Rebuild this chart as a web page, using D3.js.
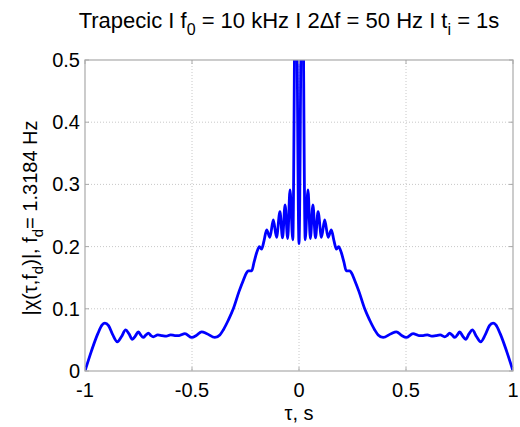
<!DOCTYPE html>
<html><head><meta charset="utf-8">
<script src="https://cdn.jsdelivr.net/npm/d3@7"></script>
<style>
body{margin:0;background:#fff;}
text{font-family:"Liberation Sans",Arial,Helvetica,sans-serif;fill:#000;}
</style></head>
<body><svg id="c" width="520" height="427"></svg>
<script>
const tau = [-1.0,-0.97,-0.94,-0.92,-0.907,-0.89,-0.87,-0.849,-0.83,-0.81,-0.795,-0.779,-0.765,-0.751,-0.74,-0.728,-0.715,-0.704,-0.692,-0.681,-0.66,-0.64,-0.62,-0.60,-0.58,-0.56,-0.533,-0.501,-0.48,-0.455,-0.43,-0.393,-0.37,-0.354,-0.33,-0.307,-0.28,-0.26,-0.245,-0.237,-0.221,-0.21,-0.198,-0.185,-0.175,-0.163,-0.151,-0.136,-0.120,-0.105,-0.089,-0.077,-0.065,-0.053,-0.042,-0.029,-0.015,0,
0.015,0.029,0.042,0.053,0.065,0.077,0.089,0.105,0.120,0.136,0.151,0.163,0.175,0.185,0.198,0.21,0.221,0.237,0.245,0.26,0.28,0.307,0.33,0.354,0.37,0.393,0.43,0.455,0.48,0.501,0.533,0.56,0.58,0.60,0.62,0.64,0.66,0.681,0.692,0.704,0.715,0.728,0.74,0.751,0.765,0.779,0.795,0.81,0.83,0.849,0.87,0.89,0.907,0.92,0.94,0.97,1.0];
const chi = [0.0,0.032,0.060,0.074,0.077,0.073,0.058,0.047,0.055,0.066,0.060,0.051,0.056,0.063,0.058,0.054,0.058,0.061,0.057,0.055,0.058,0.057,0.056,0.058,0.057,0.057,0.060,0.054,0.057,0.063,0.060,0.054,0.058,0.066,0.082,0.100,0.128,0.146,0.158,0.161,0.161,0.175,0.190,0.200,0.196,0.210,0.227,0.215,0.243,0.215,0.256,0.214,0.267,0.213,0.291,0.211,0.72,0.205,
0.72,0.211,0.291,0.213,0.267,0.214,0.256,0.215,0.243,0.215,0.227,0.210,0.196,0.200,0.190,0.175,0.161,0.161,0.158,0.146,0.128,0.100,0.082,0.066,0.058,0.054,0.060,0.063,0.057,0.054,0.060,0.057,0.057,0.058,0.056,0.057,0.058,0.055,0.057,0.061,0.058,0.054,0.058,0.063,0.056,0.051,0.060,0.066,0.055,0.047,0.058,0.073,0.077,0.074,0.060,0.032,0.0];
const xTicks = [-1,-0.5,0,0.5,1];
const yTicks = [0,0.1,0.2,0.3,0.4,0.5];

const svg = d3.select("#c");
const L=85,R=513,T=60,B=371;
const x = d3.scaleLinear().domain([-1,1]).range([L,R]);
const y = d3.scaleLinear().domain([0,0.5]).range([B,T]);

// grid
const g = svg.append("g");
g.selectAll(".gx").data(xTicks.slice(1,-1)).enter().append("line")
 .attr("x1",d=>x(d)).attr("x2",d=>x(d)).attr("y1",T).attr("y2",B)
 .attr("stroke","#c8c8c8").attr("stroke-width",1).attr("stroke-dasharray","1,2");
g.selectAll(".gy").data(yTicks.slice(1,-1)).enter().append("line")
 .attr("x1",L).attr("x2",R).attr("y1",d=>y(d)).attr("y2",d=>y(d))
 .attr("stroke","#c8c8c8").attr("stroke-width",1).attr("stroke-dasharray","1,2");

// clip
svg.append("clipPath").attr("id","clip").append("rect").attr("x",L).attr("y",T).attr("width",R-L).attr("height",B-T);

const data = tau.map((t,i)=>[t,chi[i]]);
svg.append("path").datum(data).attr("clip-path","url(#clip)")
 .attr("d",d3.line().x(d=>x(d[0])).y(d=>y(d[1])).curve(d3.curveMonotoneX))
 .attr("fill","none").attr("stroke","#0000ff").attr("stroke-width",2.8).attr("stroke-linejoin","round");

// box
svg.append("rect").attr("x",L).attr("y",T).attr("width",R-L).attr("height",B-T)
 .attr("fill","none").attr("stroke","#aaa").attr("stroke-width",1.2);
// ticks inward
xTicks.forEach(d=>{
  svg.append("line").attr("x1",x(d)).attr("x2",x(d)).attr("y1",B).attr("y2",B-4).attr("stroke","#aaa");
  svg.append("line").attr("x1",x(d)).attr("x2",x(d)).attr("y1",T).attr("y2",T+4).attr("stroke","#aaa");
});
yTicks.forEach(d=>{
  svg.append("line").attr("x1",L).attr("x2",L+4).attr("y1",y(d)).attr("y2",y(d)).attr("stroke","#aaa");
  svg.append("line").attr("x1",R).attr("x2",R-4).attr("y1",y(d)).attr("y2",y(d)).attr("stroke","#aaa");
});

// tick labels
const fs = 20;
svg.selectAll(".xl").data(xTicks).enter().append("text")
 .attr("x",d=>x(d)).attr("y",397).attr("text-anchor","middle").attr("font-size",fs)
 .text(d=>d3.format("")(d).replace("−","-"));
svg.selectAll(".yl").data(yTicks).enter().append("text")
 .attr("x",80).attr("y",d=>y(d)+7).attr("text-anchor","end").attr("font-size",fs)
 .text(d=>String(d));

// x label
svg.append("text").attr("x",x(0)).attr("y",420).attr("text-anchor","middle").attr("font-size",fs).text("τ, s");

// title
const tt = svg.append("text").attr("x",289).attr("y",28).attr("text-anchor","middle").attr("font-size",22);
tt.append("tspan").text("Trapecic I f");
tt.append("tspan").attr("font-size",16).attr("dy",7).text("0");
tt.append("tspan").attr("dy",-7).text(" = 10 kHz I 2Δf = 50 Hz I t");
tt.append("tspan").attr("font-size",16).attr("dy",7).text("i");
tt.append("tspan").attr("dy",-7).text(" = 1s");

// y label
const yl = svg.append("text").attr("transform","translate(37,218) rotate(-90)").attr("text-anchor","middle").attr("font-size",fs);
yl.append("tspan").text("|χ(τ,f");
yl.append("tspan").attr("font-size",15).attr("dy",6).text("d");
yl.append("tspan").attr("dy",-6).text(")|, f");
yl.append("tspan").attr("font-size",15).attr("dy",6).text("d");
yl.append("tspan").attr("dy",-6).text("= 1.3184 Hz");
</script></body></html>
